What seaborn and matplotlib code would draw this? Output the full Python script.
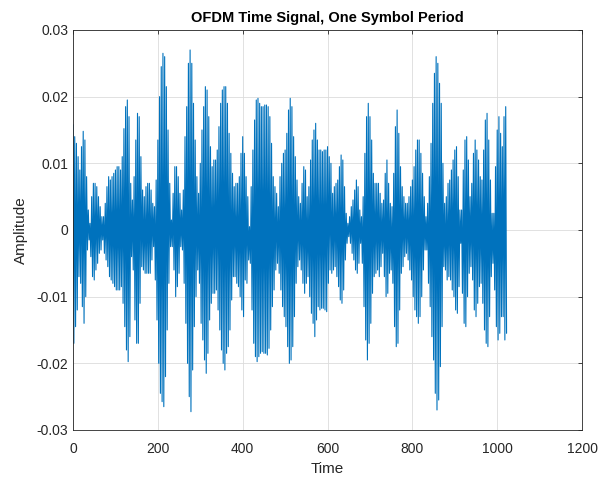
import matplotlib
matplotlib.use("Agg")
import matplotlib.pyplot as plt
import seaborn as sns
import pandas as pd

# envelope readings (units of 1e-3)
# upper swings at samples 0, 4, 8, ... ; lower swings at samples 2, 6, 10, ...
upper_mille = [
    15.8, 14, 13, 11, 9, 12.5, 14.8, 13.5, 8, 3, 1, 5, 7, 7, 6.5, 5,
    3.5, 2, 2, 4, 6.5, 8, 7.5, 8, 8.5, 9, 9.5, 9.5, 9, 11, 15.2, 18.5,
    19.5, 17, 7, 4.5, 8, 13.5, 17.5, 17, 11, 6, 5, 6.5, 7, 7, 6, 4,
    3.5, 7.5, 13.5, 20, 24.5, 26.5, 26, 21.5, 15, 7, 1.5, 5.5, 9.5, 9.5, 8, 5.5,
    3, 6, 14, 18.5, 25, 27, 25, 19, 13.5, 8, 5.5, 10, 15, 18.5, 21.5, 21,
    17, 12.5, 9.5, 10.5, 10.5, 12, 15.5, 19, 21, 21.5, 21.5, 19, 14.5, 11.5, 8.5, 6.5,
    7, 7, 8, 11.5, 14, 11.5, 8, 5, 0.5, 6.5, 12, 16.5, 19.5, 19.75, 19, 18.5,
    18.5, 18.75, 18.75, 18.5, 17, 13, 8, 6.5, 5.5, 3.5, 8, 10, 11.5, 12, 14.5, 18,
    19.75, 18.5, 14, 11, 7.5, 5, 4, 7, 9.5, 9, 5, 6.5, 10.5, 13.5, 15, 16,
    13.5, 12, 12, 11.75, 12, 12, 12.5, 11, 10, 5.5, 6.5, 7, 7.5, 9.5, 11.25, 10.5,
    6.5, 2.5, 1, 2, 3.5, 4.5, 6, 7.5, 6.5, 3, 2, 5, 11.5, 17, 19, 17,
    13.5, 8.5, 7, 7, 7, 5.5, 4, 4.5, 8.5, 10.5, 7, 4, 3.5, 8.5, 15.5, 18,
    14.5, 9.5, 6.5, 5, 4, 4, 5, 6.5, 7.5, 9.5, 12, 13.5, 13.5, 11.5, 8.5, 5,
    2, 4, 8, 13, 19, 23.5, 26, 25, 22, 19, 10, 4, 5, 7, 7.5, 9,
    10.5, 12, 12.5, 8, 3, 3, 9, 13.5, 14, 10.5, 5, 7, 11.5, 13.5, 12, 10.5,
    8, 7.5, 12, 16.5, 17.5, 13.5, 7.5, 2.5, 2.5, 9.5, 15, 17, 14.5, 12.5, 17, 18.5,
]
lower_mille = [
    -17, -14.5, -12, -7, -8, -11.5, -14, -10, -3, -1.5, -4, -7, -7.5, -6, -5, -3.5,
    -3, -1.5, -3.5, -4.5, -5.5, -7, -7.5, -8, -8.5, -9, -9, -9, -8.5, -11, -14.5, -18,
    -19.75, -16, -4, -6, -13.5, -17, -17, -11, -5.5, -6, -6.5, -6.5, -6.5, -6.5, -4.5, -2.5,
    -7.5, -13.5, -20, -24.5, -25.75, -26.5, -22, -15, -8, -2.5, -2.5, -6, -10, -8.5, -6.5, -2.5,
    -3, -8, -14, -20, -25, -27.25, -21, -14.5, -10, -6, -8, -14, -16.5, -19.5, -21.5, -18.5,
    -13.5, -11, -9.5, -9.5, -9, -12, -15, -18, -20, -21, -18.5, -17.5, -15, -10.5, -7, -7,
    -8, -8.5, -10, -12, -13, -7.5, -8, -4.5, -5, -12, -17, -19, -19.75, -19, -18.5, -18.25,
    -18.5, -18.5, -18.75, -17.75, -15, -11.5, -9, -6, -5, -6.5, -9, -11.5, -13, -14.5, -17.5, -20,
    -19.5, -17.5, -13, -8, -5.5, -4.5, -6, -8, -9.5, -8, -7, -10, -12.5, -14, -16, -13.5,
    -11.5, -12, -11.75, -11.75, -12, -12.25, -8, -6, -6.5, -6, -5.5, -7, -8.5, -10.5, -11, -9,
    -4.5, -2, -1, -2, -3.5, -4.5, -6, -6.5, -5, -2, -5, -11.5, -16.5, -19.5, -17, -14,
    -9.5, -7, -6.5, -6, -7, -5.5, -3.5, -7, -10, -9.5, -6.5, -6, -8, -14.5, -17.5, -17,
    -12, -6.5, -5.5, -4, -3.5, -4.5, -6, -7.5, -10, -12, -13, -14, -13, -10, -6, -3,
    -3, -8, -11.5, -16, -19.5, -24.5, -27, -25.5, -20.5, -14.5, -5.5, -6, -7.5, -7, -7.5, -9,
    -10, -12, -12.5, -8.5, -2, -9.5, -14, -14.5, -10, -6.5, -5.5, -7.5, -12, -13, -11, -8.5,
    -8, -11, -15, -17, -17.5, -13, -7, -5, -9, -14.5, -16.5, -15.5, -13, -13, -16.5, -15.5,
]
upper_time = [4 * k for k in range(len(upper_mille))]
lower_time = [4 * k + 2 for k in range(len(lower_mille))]

rows = []
for tu, u, tl, l in zip(upper_time, upper_mille, lower_time, lower_mille):
    rows.append((tu, u / 1000))
    rows.append((tl, l / 1000))
df = pd.DataFrame(rows, columns=["Time", "Amplitude"])

sns.set_style("whitegrid")
plt.rcParams["font.family"] = ["Liberation Sans", "DejaVu Sans"]

fig = plt.figure(figsize=(6.01, 4.82), dpi=100)
ax = fig.add_axes([0.1215, 0.1079, 0.8470, 0.8299])

sns.lineplot(data=df, x="Time", y="Amplitude", ax=ax, color="#0072BD",
             linewidth=0.8, estimator=None, sort=False)

ax.set_xlim(0, 1200)
ax.set_ylim(-0.03, 0.03)
ax.set_xticks([0, 200, 400, 600, 800, 1000, 1200])
ax.set_yticks([-0.03, -0.02, -0.01, 0, 0.01, 0.02, 0.03])
ax.set_yticklabels(["-0.03", "-0.02", "-0.01", "0", "0.01", "0.02", "0.03"])
ax.set_xlabel("Time", fontsize=11, color="#262626", labelpad=4)
ax.set_ylabel("Amplitude", fontsize=11, color="#262626", labelpad=6)
ax.set_title("OFDM Time Signal, One Symbol Period", fontsize=10.5,
             fontweight="bold", color="black", pad=6)

ax.grid(True, color="#dcdcdc", linewidth=0.6)
for side in ax.spines.values():
    side.set_visible(True)
    side.set_color("#262626")
    side.set_linewidth(0.6)
ax.tick_params(direction="in", length=3, width=0.6, colors="#262626",
               labelsize=10, top=True, right=True, labeltop=False, labelright=False)
ax.tick_params(axis="x", pad=9)

fig.savefig("out.png", dpi=100)
plt.close(fig)
